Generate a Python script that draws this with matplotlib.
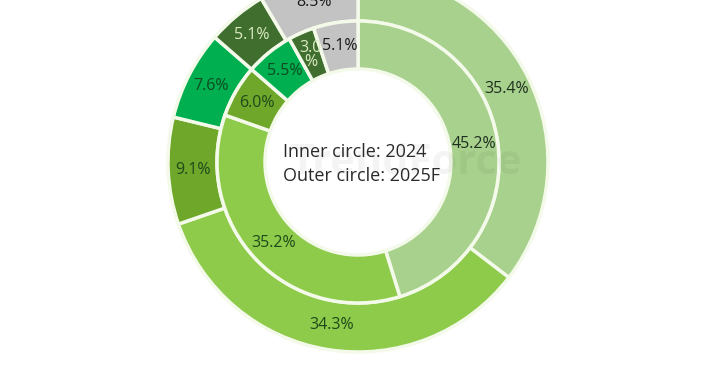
import matplotlib
matplotlib.use("Agg")
import matplotlib.pyplot as plt
import numpy as np

plt.rcParams['font.family'] = ['Open Sans', 'DejaVu Sans']

# datos
categorias = ["A", "B", "C", "D", "E", "F"]
exterior_2025 = [35.4, 34.3, 9.1, 7.6, 5.1, 8.5]
interior_2024 = [45.2, 35.2, 6.0, 5.5, 3.0, 5.1]
etiquetas_ext = ["35.4%", "34.3%", "9.1%", "7.6%", "5.1%", "8.5%"]
etiquetas_int = ["45.2%", "35.2%", "6.0%", "5.5%", "3.0\n%", "5.1%"]

colores = ["#a9d18e", "#8fcb4a", "#6ea72a", "#00b050", "#3f6e2e", "#c3c3c3"]
color_texto = ["#1f2f1f", "#1d4a1a", "#1d4a1a", "#0f4a20", "#dcecc4", "#1a1a1a"]

fig = plt.figure(figsize=(7.2, 3.8), dpi=100)
ax = fig.add_axes([0, 0, 1, 1])

centro = (358, 218)
r_ext, r_int, r_hueco = 190, 141, 93

ax.pie(exterior_2025, radius=r_ext, center=centro, colors=colores,
       startangle=90, counterclock=False, frame=True,
       wedgeprops=dict(width=r_ext - r_int, edgecolor="#f4faea", linewidth=2.5))
ax.pie(interior_2024, radius=r_int, center=centro, colors=colores,
       startangle=90, counterclock=False, frame=True,
       wedgeprops=dict(width=r_int - r_hueco, edgecolor="#f4faea", linewidth=2.5))
ax.set_xlim(0, 720)
ax.set_ylim(0, 380)
ax.set_aspect("equal")
ax.axis("off")


def poner_etiquetas(valores, etiquetas, r):
    acum = 0
    for v, txt, c in zip(valores, etiquetas, color_texto):
        medio = acum + v / 2
        ang = np.deg2rad(90 - medio * 3.6)
        x = centro[0] + r * np.cos(ang)
        y = centro[1] + r * np.sin(ang)
        ax.text(x, y, txt, ha="center", va="center", fontsize=11.5, color=c,
                linespacing=0.9)
        acum += v

poner_etiquetas(exterior_2025, etiquetas_ext, (r_ext + r_int) / 2)
poner_etiquetas(interior_2024, etiquetas_int, (r_int + r_hueco) / 2)

# marca de agua
ax.text(centro[0] + 48, centro[1] - 2, "TrendForce", ha="center", va="center",
        fontsize=30, color="#000000", alpha=0.045, fontweight="bold")

ax.text(283, centro[1] - 2, "Inner circle: 2024\nOuter circle: 2025F", ha="left",
        va="center", fontsize=13, color="#2a2a2a", linespacing=1.45)

fig.savefig("out.png", dpi=100)
